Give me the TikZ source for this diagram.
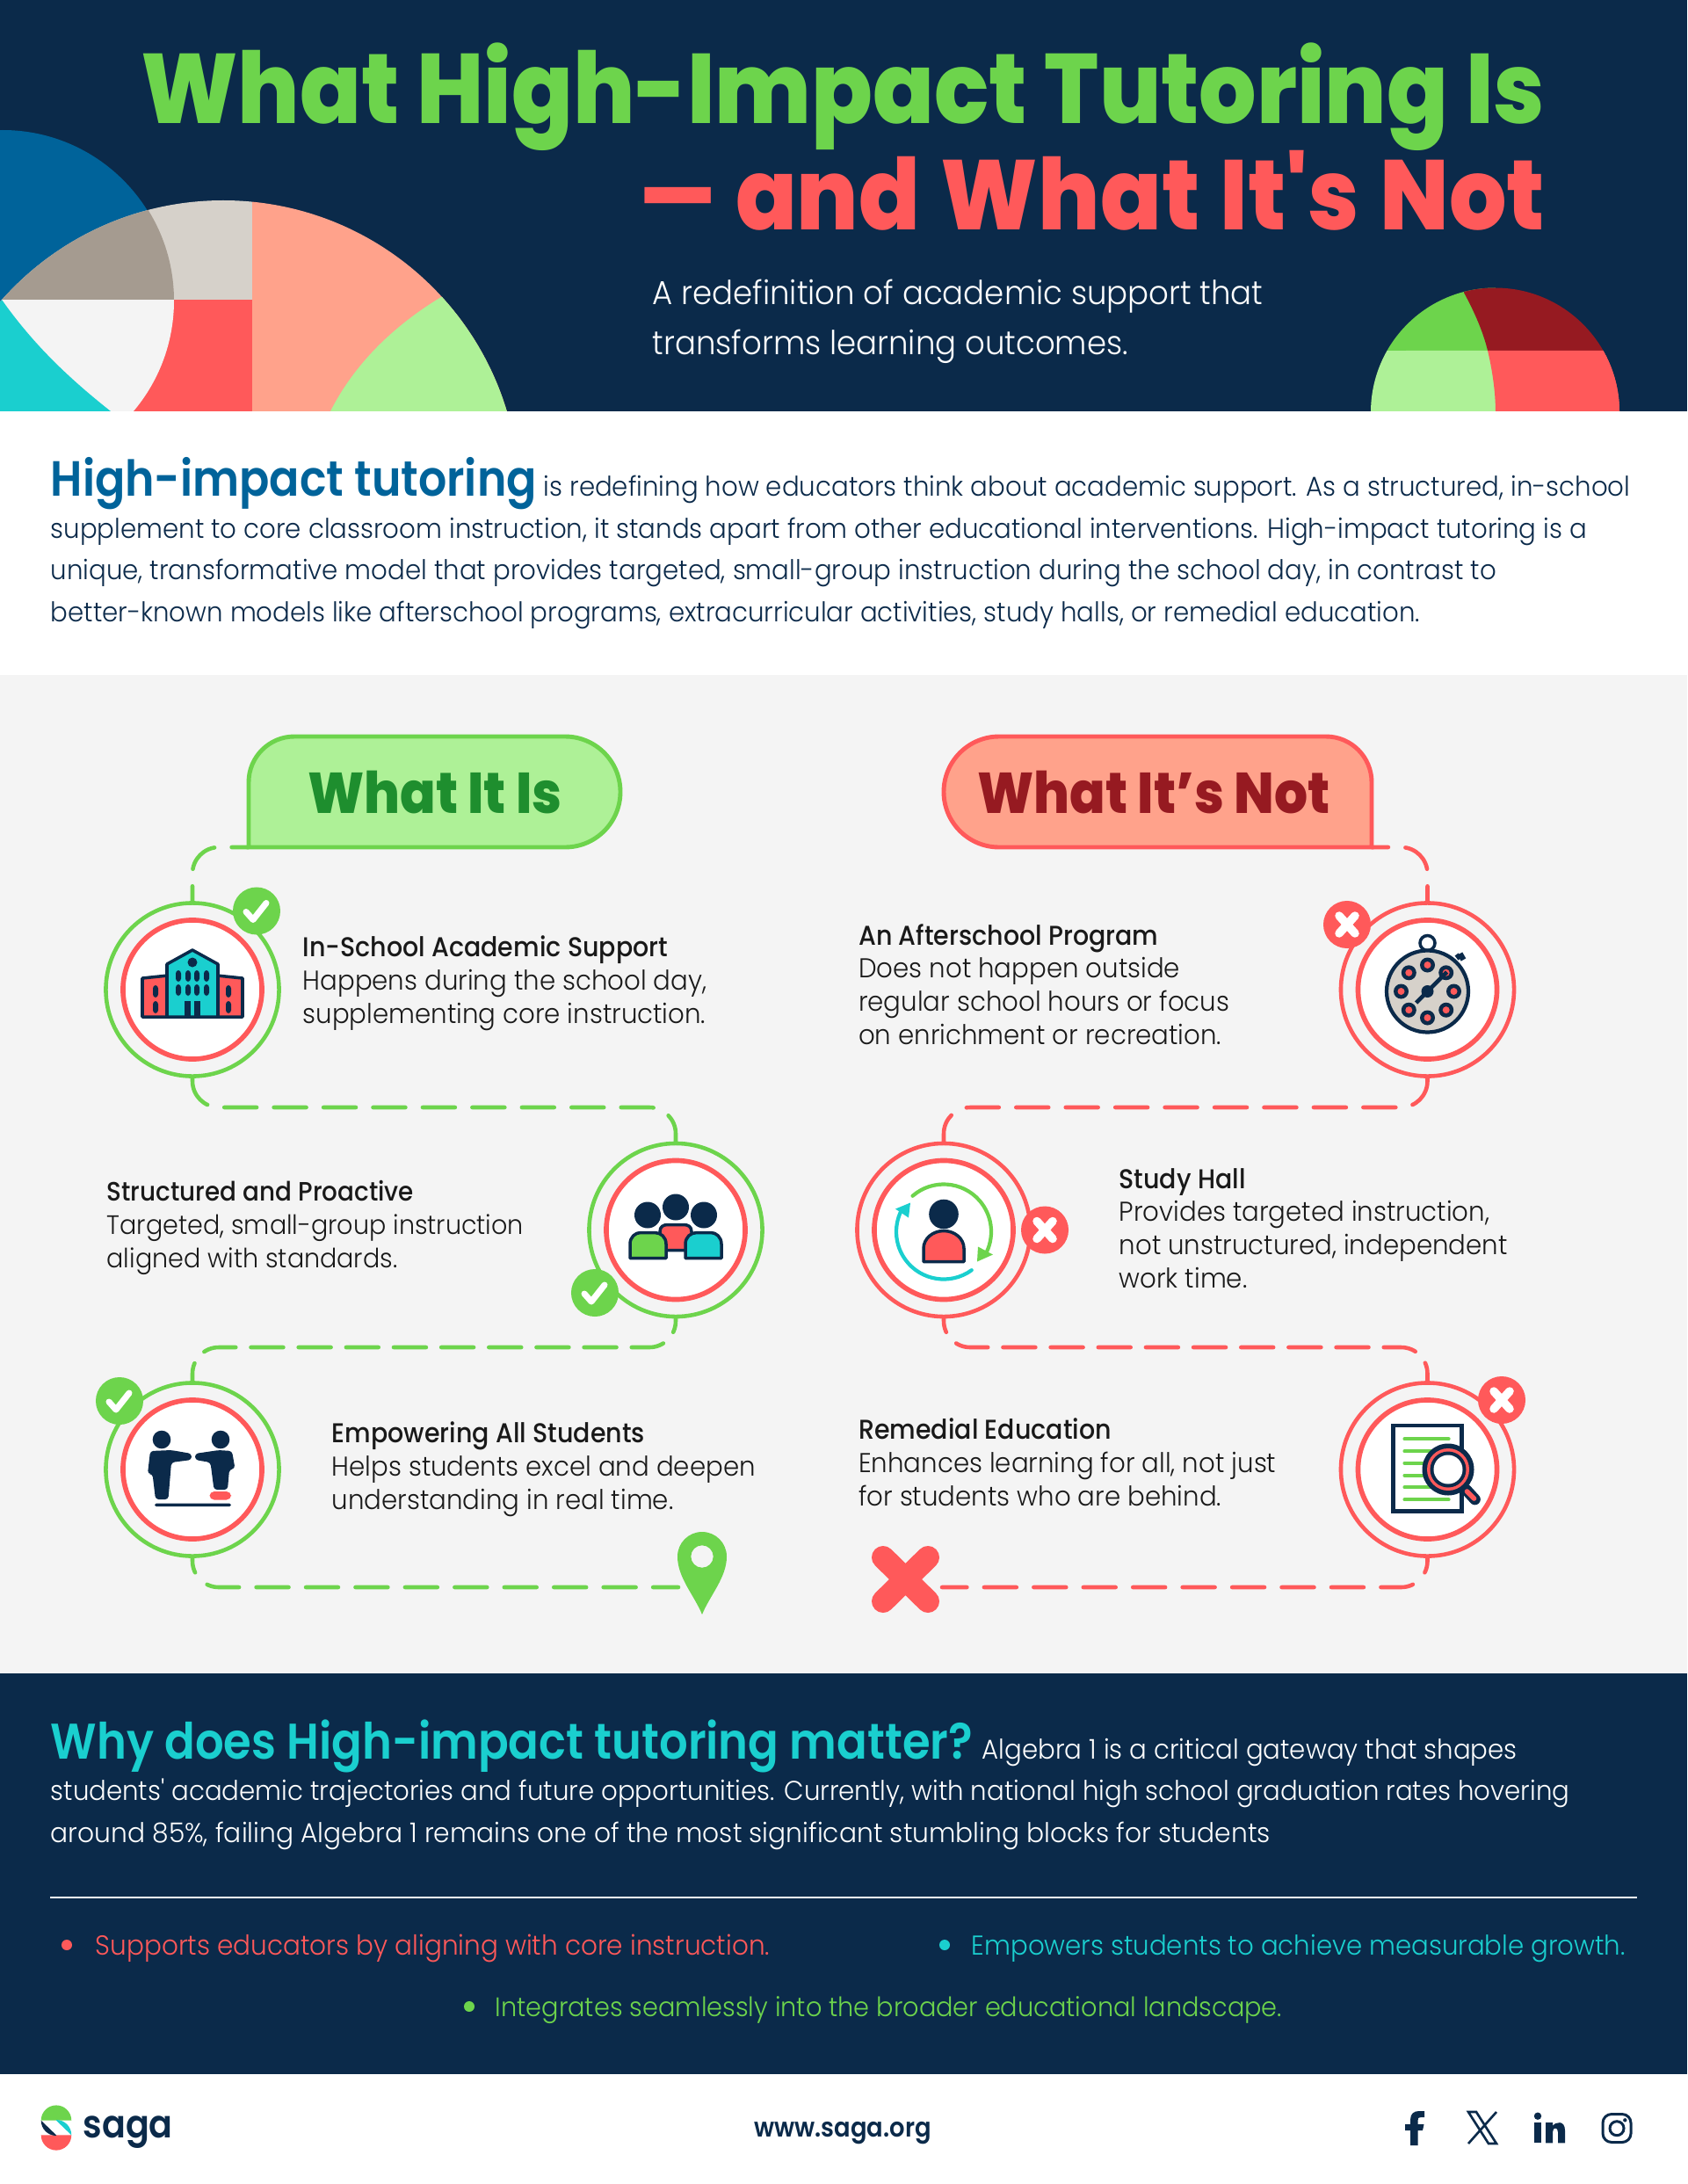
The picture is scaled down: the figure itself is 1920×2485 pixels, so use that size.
\documentclass[tikz,border=0pt]{standalone}
\usepackage{fontspec}
\usetikzlibrary{positioning}
\newfontfamily\headfont[FakeStretch=0.914]{Poppins ExtraBold}
\newfontfamily\bodyfont[FakeStretch=0.945]{Poppins Light}
\newfontfamily\midfont[FakeStretch=0.92]{Poppins Medium}
\newfontfamily\semifont[FakeStretch=0.9]{Poppins SemiBold}
\definecolor{navy}{HTML}{0B2A4A}
\definecolor{sea}{HTML}{00639A}
\definecolor{taupe}{HTML}{A59B90}
\definecolor{stone}{HTML}{D6D1CA}
\definecolor{paper}{HTML}{F4F4F4}
\definecolor{salmon}{HTML}{FFA28B}
\definecolor{coral}{HTML}{FF595A}
\definecolor{mint}{HTML}{AEF197}
\definecolor{leaf}{HTML}{6DD44C}
\definecolor{forest}{HTML}{1E8E2E}
\definecolor{wine}{HTML}{961A21}
\definecolor{aqua}{HTML}{1ACFCF}
\begin{document}
\begin{tikzpicture}
        [x=0.01cm, y=-0.01cm,
        line/.style={anchor=base west, inner sep=0pt, align=left},
        bodytext/.style={line, font=\bodyfont\fontsize{8.8pt}{13.5pt}\selectfont},
        itemtext/.style={line, text=black!90, font=\bodyfont\fontsize{8.8pt}{10.7pt}\selectfont},
        ringok/.style={circle, draw=leaf, line width=1.3pt, minimum size=1.97cm, inner sep=0pt},
        ringno/.style={circle, draw=coral, line width=1.3pt, minimum size=1.97cm, inner sep=0pt},
        core/.style={circle, draw=coral, fill=white, line width=1.6pt, minimum size=1.58cm, inner sep=0pt},
        okdot/.style={circle, fill=leaf, minimum size=0.54cm, inner sep=0pt},
        nodot/.style={circle, fill=coral, minimum size=0.54cm, inner sep=0pt},
        okmark/.style={white, line width=2pt, line cap=round, line join=round},
        nomark/.style={white, line width=2.7pt, line cap=round},
        trail/.style={line width=1.3pt, line cap=round, rounded corners=0.3cm},
        trailok/.style={trail, leaf, dash pattern=on 10.5pt off 5.55pt},
        trailno/.style={trail, coral, dash pattern=on 10.5pt off 5.55pt},
        shorter/.style={dash pattern=on 10.5pt off 4.9pt},
        outline/.style={navy, line width=1pt, line join=round},
        bullet/.style={circle, minimum size=0.12cm, inner sep=0pt}]

        \useasboundingbox (0,0) rectangle (1920,2485);

        % page bands
        \fill[white] (0,0) rectangle (1920,2485);
        \fill[navy] (0,0) rectangle (1920,468);
        \fill[paper] (0,768) rectangle (1920,1904);
        \fill[navy] (0,1904) rectangle (1920,2360);

        % left header shape
        \begin{scope}
            \clip (0,0) rectangle (1920,468);
            \fill[sea] (3,342) circle (194);
            \begin{scope}
                \clip (254,565) circle (337);
                \fill[salmon] (287,200) rectangle (620,468);
                \fill[mint] (502,338) .. controls (446,372) and (403,415) .. (376,468) -- (620,468) -- (620,338) -- cycle;
                \fill[stone] (0,200) rectangle (287,341);
                \fill[coral] (0,341) rectangle (287,468);
                \begin{scope}
                    \clip (3,342) circle (195);
                    \fill[taupe] (0,200) rectangle (287,341);
                    \fill[paper] (0,341) rectangle (287,468);
                    \fill[aqua] (0,341) -- (2,341) .. controls (38,392) and (78,430) .. (126,468) -- (0,468) -- cycle;
                \end{scope}
            \end{scope}
        \end{scope}

        % right header shape
        \begin{scope}
            \clip (1500,300) rectangle (1900,468);
            \clip (1701.5,469) circle (141.5);
            \fill[mint] (1550,399) rectangle (1702,470);
            \fill[coral] (1702,399) rectangle (1850,470);
            \fill[leaf] (1550,320) rectangle (1702,399);
            \fill[wine] (1666,320) -- (1666,333) .. controls (1678,355) and (1688,378) .. (1693,399) -- (1850,399) -- (1850,320) -- cycle;
            \fill[mint] (1693,399) .. controls (1698,420) and (1702,445) .. (1702,470) -- (1600,470) -- (1600,399) -- cycle;
            \fill[coral] (1693,399) .. controls (1698,420) and (1702,445) .. (1702,470) -- (1850,470) -- (1850,399) -- cycle;
        \end{scope}

        % heading
        \node[line, anchor=base east, text=leaf, font=\headfont\fontsize{32pt}{36pt}\selectfont] (title) at (1759,141) {What High-Impact Tutoring Is};
        \node[line, anchor=base east, text=coral, font=\headfont\fontsize{32pt}{36pt}\selectfont] (titleb) at (1759,262) {\scalebox{1.3}[1]{–} and\hspace{1.1pt} What\hspace{1.1pt} It's\hspace{1.1pt} Not};
        \node[line, text=white, font=\bodyfont\fontsize{10.7pt}{16pt}\selectfont] (sub) at (742,403) {A redefinition of academic support that\\transforms learning outcomes.};

        % intro paragraph
        \node[bodytext, text=navy] (intro) at (57,707) {{\semifont\color{sea}\fontsize{16pt}{13.5pt}\selectfont High-impact tutoring} is redefining how educators think about academic support. As a structured, in-school\\
        supplement to core classroom instruction, it stands apart from other educational interventions. High-impact tutoring is a\\
        unique, transformative model that provides targeted, small-group instruction during the school day, in contrast to\\
        better-known models like afterschool programs, extracurricular activities, study halls, or remedial education.};

        % tabs
        \draw[fill=mint, draw=leaf, line width=1.4pt] (283,964) -- (283,890) arc (180:270:52) -- (643,838) arc (270:450:63) -- cycle;
        \draw[fill=salmon, draw=coral, line width=1.4pt] (1561,964) -- (1561,890) arc (360:270:52) -- (1137,838) arc (270:90:63) -- cycle;
        \coordinate (tabok) at (283,964);
        \coordinate (tabno) at (1561,964);
        \node[line, anchor=base, text=forest, font=\headfont\fontsize{18.6pt}{22pt}\selectfont] (okhead) at (495,925) {What It Is};
        \node[line, anchor=base, text=wine, font=\headfont\fontsize{18.6pt}{22pt}\selectfont] (nohead) at (1313,925) {What It’s Not};

        % rings
        \node[ringok] (school) at (219,1126) {};
        \node[ringok] (group) at (769,1399.5) {};
        \node[ringok] (people) at (219,1672) {};
        \node[ringno] (watch) at (1624.5,1126) {};
        \node[ringno] (loop) at (1074,1399.5) {};
        \node[ringno] (paper) at (1624.5,1672) {};
        \node[core] at (school) {};
        \node[core] at (group) {};
        \node[core] at (people) {};
        \node[core] at (watch) {};
        \node[core] at (loop) {};
        \node[core] at (paper) {};

        % trail rows and ends
        \coordinate (rowa) at (0,1260);
        \coordinate (rowb) at (0,1533);
        \coordinate (okend) at (772,1806);
        \coordinate (noend) at (1072,1806);

        % trails on the left
        \draw[trailok, dash phase=5.7pt] (school.north) |- (tabok);
        \draw[trailok] (school.south) -- (school.south |- rowa) -- (group.north |- rowa) -- (group.north);
        \draw[trailok, shorter, dash phase=6pt] (group.south) -- (group.south |- rowb) -- (people.north |- rowb) -- (people.north);
        \draw[trailok, dash phase=5.7pt] (people.south) |- (okend);

        % trails on the right
        \draw[trailno, dash phase=5.7pt] (watch.north) |- (tabno);
        \draw[trailno] (watch.south) -- (watch.south |- rowa) -- (loop.north |- rowa) -- (loop.north);
        \draw[trailno, shorter, dash phase=6pt] (loop.south) -- (loop.south |- rowb) -- (paper.north |- rowb) -- (paper.north);
        \draw[trailno, dash phase=5.7pt] (paper.south) |- (noend);

        % end marks
        \fill[leaf, even odd rule] (771,1771) arc (180:360:28) .. controls (827,1795) and (808,1815) .. (799,1837) .. controls (790,1815) and (771,1795) .. (771,1771) -- cycle (799,1771) circle (12.7);
        \draw[coral, line width=7.4pt, line cap=round] (1005,1772) -- (1056,1822) (1056,1772) -- (1005,1822);

        % badges
        \node[okdot] (oka) at (292,1036.5) {};
        \node[okdot] (okb) at (677,1471) {};
        \node[okdot] (okc) at (136,1594) {};
        \node[nodot] (noa) at (1533,1052) {};
        \node[nodot] (nob) at (1189,1399.5) {};
        \node[nodot] (noc) at (1709,1593) {};
        \foreach \x/\y in {292/1036.5, 677/1471, 136/1594}
            \draw[okmark] (\x-12,\y+1) -- (\x-4,\y+10) -- (\x+11,\y-9);
        \foreach \x/\y in {1533/1052, 1189/1399.5, 1709/1593}
            \draw[nomark] (\x-9,\y-10) -- (\x+9,\y+10) (\x+9,\y-10) -- (\x-9,\y+10);

        % school icon
        \begin{scope}[shift={(219,1126)}]
            \draw[outline, fill=coral] (-57,-13) -- (-28,-16) -- (-28,31) -- (-57,31) -- cycle;
            \draw[outline, fill=coral] (57,-13) -- (28,-16) -- (28,31) -- (57,31) -- cycle;
            \draw[outline, fill=aqua] (-29,31) -- (-29,-29) -- (0,-45) -- (29,-29) -- (29,31) -- cycle;
            \fill[navy] (0,-31) circle (5.5);
            \foreach \x in {-16,-5,5,16} {
                \fill[navy, rounded corners=1pt] (\x-3,-22) rectangle (\x+3,-9);
                \fill[navy, rounded corners=1pt] (\x-3,-6) rectangle (\x+3,7);
            }
            \fill[navy] (-9,13) rectangle (-2,31);
            \fill[navy] (2,13) rectangle (9,31);
            \foreach \x in {-42,41} {
                \fill[navy, rounded corners=1pt] (\x-3,-5) rectangle (\x+3,9);
                \fill[navy, rounded corners=1pt] (\x-3,13) rectangle (\x+3,27);
            }
        \end{scope}

        % group icon
        \begin{scope}[shift={(769,1399.5)}]
            \fill[navy] (0,-26) circle (15);
            \fill[navy] (-32,-17) circle (15);
            \fill[navy] (32,-17) circle (15);
            \draw[outline, fill=coral] (-18,23) -- (-18,2) .. controls (-18,-4) and (-14,-6) .. (-9,-6) -- (9,-6) .. controls (14,-6) and (18,-4) .. (18,2) -- (18,23) -- cycle;
            \draw[outline, fill=leaf] (-52,32) -- (-52,16) .. controls (-52,8) and (-46,3) .. (-40,3) -- (-24,3) .. controls (-17,3) and (-11,8) .. (-11,16) -- (-11,32) -- cycle;
            \draw[outline, fill=aqua] (52,32) -- (52,16) .. controls (52,8) and (46,3) .. (40,3) -- (24,3) .. controls (17,3) and (11,8) .. (11,16) -- (11,32) -- cycle;
        \end{scope}

        % people icon
        \begin{scope}[shift={(219,1672)}]
            \fill[navy] (-35,-34) circle (10.3);
            \fill[navy] (32,-34) circle (10.3);
            \fill[navy, rounded corners=1pt] (-48,-21) -- (-24,-22) -- (-1,-18) -- (-1,-11) -- (-24,-8) -- (-27.5,34) -- (-42,34) -- (-45.5,5) -- (-51,5) -- cycle;
            \fill[navy, rounded corners=1pt] (3,-18) -- (30,-22) -- (45,-21) -- (48.5,-1) -- (42,0) -- (40,23) -- (24.5,23) -- (20.5,-8) -- (3,-11) -- cycle;
            \fill[coral, rounded corners=1.5pt] (19.5,25) rectangle (44,34.5);
            \fill[navy, rounded corners=0.5pt] (-43,38.5) rectangle (44,42);
        \end{scope}

        % stopwatch icon
        \begin{scope}[shift={(1624.5,1126)}]
            \draw[navy, line width=1pt, fill=white] (0,-53) circle (8.5);
            \draw[navy, line width=1.8pt] (37,-41) -- (41,-34) (33,-36) -- (37,-39);
            \draw[navy, line width=1.2pt, fill=stone] (0,2) circle (46.5);
            \foreach \a in {0,45,...,315} {
                \fill[navy] (\a:30) ++(0,2) circle (8.5);
                \fill[coral] (\a:30) ++(0,2) circle (4);
            }
            \draw[navy, line width=1.3pt] (22,-20) -- (-13,15);
            \fill[navy] (0,2) circle (7);
        \end{scope}

        % loop icon
        \begin{scope}[shift={(1074,1399.5)}]
            \fill[navy] (0,-18) circle (16.8);
            \draw[outline, fill=coral] (-23,36) -- (-23,21) arc (180:360:23 and 20) -- (23,36) -- cycle;
            \draw[leaf, line width=1.2pt, line cap=round] (229:54) ++(0,2) arc (229:385:54);
            \draw[aqua, line width=1.2pt, line cap=round] (54:54) ++(0,2) arc (54:205:54);
            \fill[leaf] (39,19) -- (56,28) -- (38,36) -- cycle;
            \fill[aqua] (-55,-24) -- (-38,-31) -- (-40,-14) -- cycle;
        \end{scope}

        % report icon
        \begin{scope}[shift={(1624.5,1672)}]
            \draw[navy, line width=1.2pt, fill=white] (-39,-50) rectangle (39,47.5);
            \foreach \y in {-34.7,-20.7,-7.3,6.7,20.3,34.3}
                \draw[leaf, line width=1.2pt, line cap=round] (-26,\y) -- (24,\y);
            \draw[navy, line width=3.6pt, line cap=round] (44,23) -- (54,34);
            \draw[coral, line width=1.6pt, line cap=round] (45,25) -- (53,33);
            \fill[navy] (23.5,0) circle (29.5);
            \fill[coral] (23.5,0) circle (24);
            \fill[navy] (23.5,0) circle (20.5);
            \fill[white] (23.5,0) circle (16.5);
        \end{scope}

        % item texts on the left
        \node[itemtext] (schooltext) at (344,1164) {{\midfont In-School Academic Support}\\Happens during the school day,\\supplementing core instruction.};
        \node[itemtext, font=\bodyfont\fontsize{8.6pt}{10.7pt}\selectfont] (grouptext) at (121,1442) {{\midfont Structured and Proactive}\\Targeted, small-group instruction\\aligned with standards.};
        \node[itemtext] (peopletext) at (377,1717) {{\midfont Empowering All Students}\\Helps students excel and deepen\\understanding in real time.};

        % item texts on the right
        \node[itemtext] (watchtext) at (976.5,1188) {{\midfont An Afterschool Program}\\Does not happen outside\\regular school hours or focus\\on enrichment or recreation.};
        \node[itemtext] (looptext) at (1273,1465) {{\midfont Study Hall}\\Provides targeted instruction,\\not unstructured, independent\\work time.};
        \node[itemtext] (papertext) at (976.5,1713) {{\midfont Remedial Education}\\Enhances learning for all, not just\\for students who are behind.};

        % why paragraph
        \node[bodytext, text=white] (why) at (57,2096) {{\semifont\color{aqua}\fontsize{16.2pt}{13.5pt}\selectfont Why does High-impact tutoring matter?} Algebra 1 is a critical gateway that shapes\\
        students' academic trajectories and future opportunities. Currently, with national high school graduation rates hovering\\
        \scalebox{1.017}[1]{around 85\%, failing Algebra 1 remains one of the most significant stumbling blocks for students}};

        % rule and bullets
        \coordinate (rulea) at (57,2159);
        \coordinate (ruleb) at (1863,2159);
        \draw[white, line width=0.45pt] (rulea) -- (ruleb);
        \node[bullet, fill=coral] (dota) at (76,2213) {};
        \node[bullet, fill=aqua] (dotb) at (1075,2213) {};
        \node[bullet, fill=leaf] (dotc) at (534,2283) {};
        \node[bodytext, text=coral, font=\bodyfont\fontsize{8.88pt}{13.5pt}\selectfont] (pointa) at (108,2224) {Supports educators by aligning with core instruction.};
        \node[bodytext, text=aqua] (pointb) at (1105,2224) {Empowers students to achieve measurable growth.};
        \node[bodytext, text=leaf, font=\bodyfont\fontsize{8.66pt}{13.5pt}\selectfont] (pointc) at (563,2294) {Integrates seamlessly into the broader educational landscape.};

        % logo
        \fill[leaf] (46.7,2412.7) arc (180:360:17.3) -- cycle;
        \fill[coral] (46.7,2429.3) arc (180:0:17.3) -- cycle;
        \fill[navy] (46.7,2412.7) arc (180:90:17.3) -- (64,2429.3) -- cycle;
        \fill[aqua] (81.3,2429.3) arc (0:-90:17.3) -- (64,2412.7) -- cycle;
        \node[line, text=navy, font=\semifont\fontsize{12.5pt}{14pt}\selectfont] (saga) at (94,2432) {saga};
        \node[line, text=navy, font=\bodyfont\fontsize{2pt}{3pt}\selectfont] (sagareg) at (189,2432) {®};

        % footer
        \node[line, anchor=base, text=navy, font=\semifont\fontsize{8.65pt}{10pt}\selectfont] (site) at (959,2431) {www.saga.org};

        % social icons
        \fill[navy] (1605,2441) -- (1605,2424) -- (1599,2424) -- (1599,2417) -- (1605,2417) -- (1605,2412) .. controls (1605,2405) and (1609,2402) .. (1615,2402) -- (1621,2402) -- (1621,2409) -- (1617,2409) .. controls (1614,2409) and (1613.5,2410) .. (1613.5,2413) -- (1613.5,2417) -- (1620.5,2417) -- (1619,2424) -- (1613.5,2424) -- (1613.5,2441) -- cycle;
        \draw[navy, line width=0.75pt] (1671,2403) -- (1680,2403) -- (1703,2439) -- (1694,2439) -- cycle (1703,2403) -- (1671,2439);
        \fill[navy] (1750,2407.7) circle (4.2);
        \fill[navy] (1746,2415) rectangle (1754.3,2438.3);
        \fill[navy] (1759,2438.3) -- (1759,2415) -- (1767,2415) -- (1767,2419) .. controls (1770,2414) and (1781,2412) .. (1781,2424) -- (1781,2438.3) -- (1773,2438.3) -- (1773,2426) .. controls (1773,2420) and (1767,2420) .. (1767,2426) -- (1767,2438.3) -- cycle;
        \draw[navy, line width=0.85pt, rounded corners=0.1cm] (1824,2405.5) rectangle (1856,2437.5);
        \draw[navy, line width=0.85pt] (1840,2421.7) circle (8);
        \fill[navy] (1849.3,2412.3) circle (2.2);

    \end{tikzpicture}
\end{document}
